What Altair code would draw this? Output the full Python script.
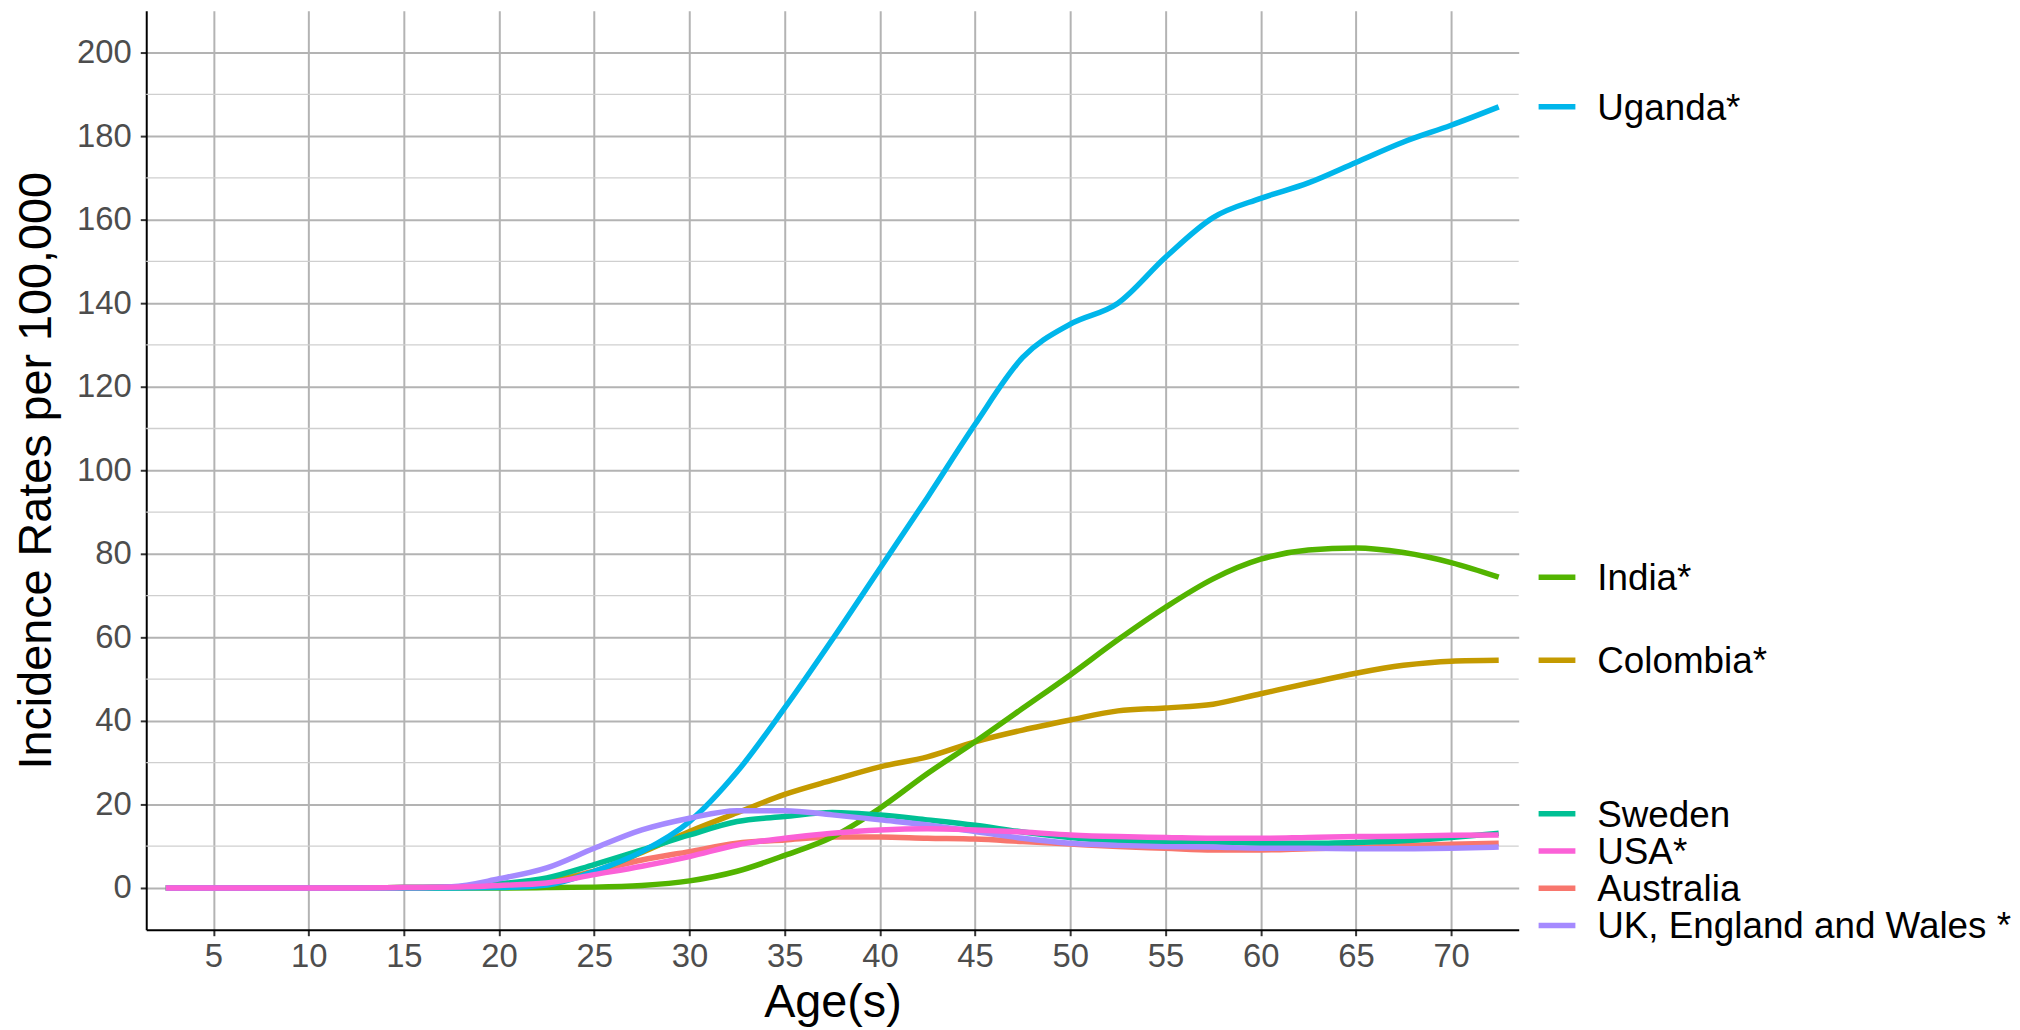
import altair as alt
import pandas as pd

ages = [2.5, 5, 7.5, 10, 12.5, 15, 17.5, 20, 22.5, 25, 27.5, 30, 32.5, 35, 37.5,
        40, 42.5, 45, 47.5, 50, 52.5, 55, 57.5, 60, 62.5, 65, 67.5, 70, 72.5]

countries = ["Australia", "Colombia*", "India*", "Sweden", "Uganda*",
             "UK, England and Wales *", "USA*"]
colors = ["#F8766D", "#C49A00", "#53B400", "#00C094", "#00B6EB", "#A58AFF", "#FB61D7"]

australia = [0, 0, 0, 0, 0, 0.1, 0.2, 0.6, 1.6, 4.0, 6.7, 8.7, 10.7, 11.5, 12.2,
             12.2, 11.9, 11.7, 11.1, 10.5, 9.9, 9.5, 9.1, 9.1, 9.4, 9.7, 10.1, 10.5, 10.7]
colombia = [0, 0, 0, 0, 0, 0.1, 0.2, 0.5, 1.5, 4.0, 8.5, 13.5, 18.0, 22.4, 25.8,
            29.0, 31.4, 35.0, 37.8, 40.2, 42.4, 43.1, 44.0, 46.5, 49.0, 51.4, 53.3, 54.3, 54.5]
india = [0, 0, 0, 0, 0, 0, 0, 0, 0.1, 0.2, 0.6, 1.7, 4.0, 7.8, 12.2,
         19.1, 27.4, 35.0, 43.0, 51.0, 59.4, 67.2, 74.0, 78.7, 80.9, 81.4, 80.3, 77.9, 74.4]
sweden = [0, 0, 0, 0, 0, 0.1, 0.2, 1.0, 2.4, 5.6, 9.1, 12.7, 15.9, 17.1, 18.1,
          17.5, 16.3, 15.0, 13.4, 12.1, 11.3, 11.1, 11.0, 10.7, 10.7, 10.9, 11.3, 12.1, 13.1]
uganda = [0, 0, 0, 0, 0, 0, 0, 0.1, 0.7, 4.0, 8.7, 15.9, 27.8, 43.1, 59.5,
          76.5, 93.5, 111.0, 127.0, 135.0, 140.0, 151.0, 160.5, 165.1, 168.8, 173.7, 178.6, 182.6, 187.0]
uk = [0, 0, 0, 0, 0, 0.1, 0.3, 2.2, 4.8, 9.5, 13.9, 16.7, 18.5, 18.5, 17.5,
      16.3, 15.1, 13.5, 11.9, 10.7, 10.2, 9.9, 9.8, 9.5, 9.5, 9.4, 9.4, 9.5, 9.8]
usa = [0, 0, 0, 0, 0, 0.1, 0.2, 0.6, 1.2, 3.2, 5.2, 7.5, 10.3, 11.9, 13.1,
       13.9, 14.2, 13.9, 13.4, 12.7, 12.3, 12.1, 11.9, 11.9, 12.1, 12.3, 12.4, 12.6, 12.7]

series = [australia, colombia, india, sweden, uganda, uk, usa]

x_ticks = [5, 10, 15, 20, 25, 30, 35, 40, 45, 50, 55, 60, 65, 70]
y_ticks = [0, 20, 40, 60, 80, 100, 120, 140, 160, 180, 200]
y_minor = [10, 30, 50, 70, 90, 110, 130, 150, 170, 190]

rows = []
for name, vals in zip(countries, series):
    for a, v in zip(ages, vals):
        rows.append({"country": name, "age": a, "rate": v})
df = pd.DataFrame(rows)

# direct labels: start at each series' last value, then push apart (simple repel)
gap = 8.93
low = -9.0
ends = sorted([(vals[-1], name) for name, vals in zip(countries, series)], reverse=True)
pos = [e[0] for e in ends]
for i in range(1, len(pos)):
    pos[i] = min(pos[i], pos[i - 1] - gap)
pos[-1] = max(pos[-1], low)
for i in range(len(pos) - 2, -1, -1):
    pos[i] = max(pos[i], pos[i + 1] + gap)
lab = pd.DataFrame({"country": [e[1] for e in ends], "pos": pos})

W, H = 1380, 924
xscale = alt.Scale(domain=[1.47, 73.55], nice=False, zero=False)
yscale = alt.Scale(domain=[-10, 210], nice=False, zero=False)
xaxis = alt.Axis(values=x_ticks, format="d", title="Age(s)", labelPadding=5,
                 titlePadding=6, grid=True)
yaxis = alt.Axis(values=y_ticks, format="d", title="Incidence Rates per 100,000",
                 labelPadding=9, titlePadding=16, grid=True)
color = alt.Color("country:N", scale=alt.Scale(domain=countries, range=colors), legend=None)

lines = alt.Chart(df).mark_line(strokeWidth=5.5, interpolate="monotone").encode(
    x=alt.X("age:Q", scale=xscale, axis=xaxis),
    y=alt.Y("rate:Q", scale=yscale, axis=yaxis),
    color=color,
    detail="country:N",
)

minor = alt.Chart(pd.DataFrame({"rate": y_minor})).mark_rule(
    color="#cfcfcf", strokeWidth=1.3
).encode(y=alt.Y("rate:Q", scale=yscale, axis=yaxis))

seg = alt.Chart(lab).mark_rule(strokeWidth=5.5).encode(
    x=alt.value(W + 20), x2=alt.value(W + 57),
    y=alt.Y("pos:Q", scale=yscale, axis=yaxis),
    color=color,
)

txt = alt.Chart(lab).mark_text(
    align="left", baseline="middle", fontSize=37, font="Liberation Sans", color="black", dy=2
).encode(
    x=alt.value(W + 79),
    y=alt.Y("pos:Q", scale=yscale, axis=yaxis),
    text="country:N",
)

chart = alt.layer(minor, lines, seg, txt).properties(
    width=W, height=H,
    padding={"left": 4, "top": 0, "right": 0, "bottom": 0},
).configure_view(stroke=None).configure_axis(
    labelFont="Liberation Sans", labelFontSize=33, labelColor="#4d4d4d",
    titleFont="Liberation Sans", titleFontSize=47, titleColor="black",
    titleFontWeight="normal",
    domainColor="black", domainWidth=2,
    tickColor="#333333", tickWidth=2, tickSize=6,
    gridColor="#b3b3b3", gridWidth=2,
)

chart.save("out.html", embed_options={"renderer": "svg", "actions": False})
